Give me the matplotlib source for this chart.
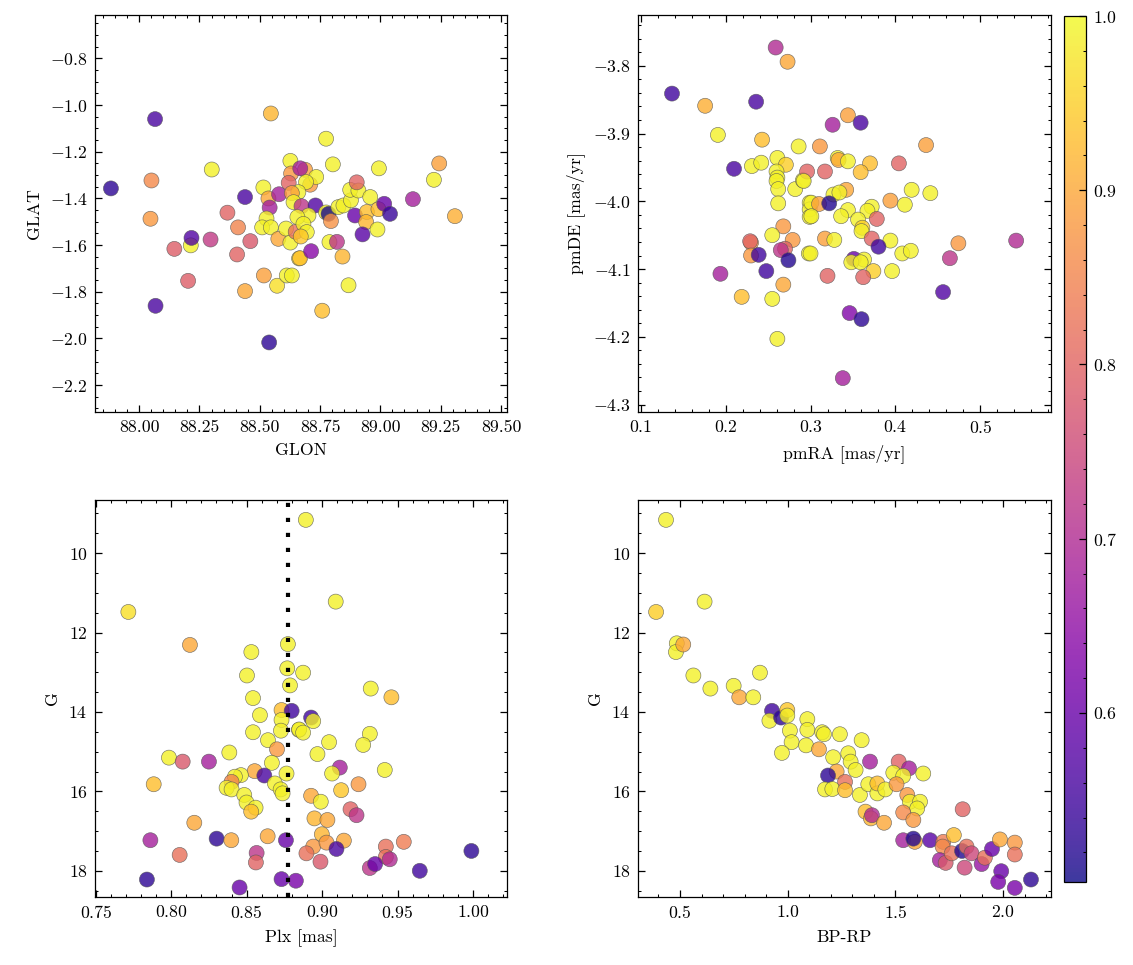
import numpy as np
import matplotlib
matplotlib.use("Agg")
import matplotlib.pyplot as plt
from matplotlib.ticker import AutoMinorLocator, MultipleLocator

# science-ish style: serif, inward ticks on every side
plt.rcParams['font.family'] = 'serif'
plt.rcParams['font.serif'] = ['cmr10', 'DejaVu Serif']
plt.rcParams['mathtext.fontset'] = 'cm'
plt.rcParams['axes.formatter.use_mathtext'] = True
plt.rcParams['font.size'] = 8.5
plt.rcParams['axes.linewidth'] = 0.6
plt.rcParams['xtick.direction'] = 'in'
plt.rcParams['ytick.direction'] = 'in'
plt.rcParams['xtick.top'] = True
plt.rcParams['ytick.right'] = True
plt.rcParams['xtick.major.size'] = 3.2
plt.rcParams['ytick.major.size'] = 3.2
plt.rcParams['xtick.minor.size'] = 1.6
plt.rcParams['ytick.minor.size'] = 1.6
plt.rcParams['xtick.major.width'] = 0.6
plt.rcParams['ytick.major.width'] = 0.6
plt.rcParams['xtick.minor.width'] = 0.5
plt.rcParams['ytick.minor.width'] = 0.5
plt.rcParams['xtick.minor.visible'] = True
plt.rcParams['ytick.minor.visible'] = True

# ---- sky positions ----
glon = [88.066, 87.883, 88.051, 88.047, 88.301, 88.546, 88.439, 88.366, 88.410, 88.214,
        88.217, 88.146, 88.296, 88.461, 88.406, 88.203, 88.068, 88.439, 88.517, 88.572,
        88.612, 88.539, 88.515, 88.536, 88.541, 88.580, 88.528, 88.510, 88.546, 88.577,
        88.627, 88.630, 88.620, 88.688, 88.668, 88.609, 88.627, 88.649, 88.663, 88.775,
        88.803, 88.994, 89.244, 89.222, 89.135, 89.309, 88.709, 88.734, 88.692, 88.660,
        88.633, 88.640, 88.673, 88.731, 88.702, 88.656, 88.681, 88.695, 88.670, 88.667,
        88.713, 88.633, 88.775, 88.785, 88.795, 88.789, 88.820, 88.843, 88.868, 88.759,
        88.826, 88.847, 88.878, 88.875, 88.909, 88.902, 88.958, 88.895, 88.944, 88.941,
        88.926, 88.988, 88.992, 89.016, 89.040]
glat = [-1.060, -1.357, -1.323, -1.487, -1.276, -1.036, -1.394, -1.461, -1.524, -1.601,
        -1.569, -1.616, -1.576, -1.583, -1.640, -1.753, -1.860, -1.797, -1.730, -1.774,
        -1.730, -2.017, -1.353, -1.400, -1.439, -1.382, -1.486, -1.524, -1.524, -1.573,
        -1.239, -1.293, -1.333, -1.277, -1.271, -1.529, -1.589, -1.543, -1.657, -1.144,
        -1.254, -1.271, -1.250, -1.320, -1.403, -1.476, -1.341, -1.308, -1.330, -1.373,
        -1.377, -1.416, -1.433, -1.430, -1.473, -1.480, -1.509, -1.544, -1.563, -1.656,
        -1.626, -1.730, -1.460, -1.466, -1.497, -1.587, -1.586, -1.649, -1.772, -1.881,
        -1.437, -1.430, -1.408, -1.363, -1.366, -1.331, -1.394, -1.473, -1.458, -1.501,
        -1.554, -1.533, -1.446, -1.423, -1.466]
prob_sky = [0.56, 0.53, 0.86, 0.88, 0.99, 0.92, 0.56, 0.80, 0.85, 0.99,
            0.57, 0.79, 0.73, 0.78, 0.80, 0.79, 0.56, 0.90, 0.89, 0.97,
            0.99, 0.53, 0.99, 0.90, 0.68, 0.68, 0.99, 0.99, 0.99, 0.90,
            0.99, 0.88, 0.80, 0.89, 0.68, 0.99, 0.99, 0.82, 0.97, 0.99,
            0.99, 0.99, 0.89, 0.99, 0.68, 0.91, 0.88, 0.99, 0.99, 0.99,
            0.89, 0.99, 0.72, 0.57, 0.99, 0.99, 0.99, 0.99, 0.94, 0.93,
            0.64, 0.99, 0.99, 0.51, 0.87, 0.99, 0.72, 0.92, 0.99, 0.93,
            0.99, 0.99, 0.99, 0.99, 0.99, 0.80, 0.99, 0.60, 0.93, 0.92,
            0.58, 0.99, 0.93, 0.60, 0.54]

# ---- proper motions ----
pmra = [0.259, 0.273, 0.137, 0.236, 0.176, 0.191, 0.243, 0.286, 0.210, 0.231,
        0.242, 0.261, 0.271, 0.260, 0.261, 0.260, 0.262, 0.282, 0.291, 0.296,
        0.262, 0.299, 0.299, 0.299, 0.268, 0.255, 0.230, 0.229, 0.279, 0.230,
        0.239, 0.270, 0.265, 0.274, 0.298, 0.248, 0.194, 0.268, 0.219, 0.255,
        0.261, 0.344, 0.326, 0.359, 0.436, 0.311, 0.332, 0.333, 0.344, 0.370,
        0.404, 0.317, 0.359, 0.292, 0.342, 0.327, 0.334, 0.419, 0.441, 0.301,
        0.310, 0.322, 0.301, 0.344, 0.336, 0.372, 0.367, 0.394, 0.411, 0.378,
        0.356, 0.361, 0.360, 0.317, 0.328, 0.372, 0.394, 0.380, 0.474, 0.542,
        0.300, 0.351, 0.363, 0.348, 0.359, 0.408, 0.418, 0.464, 0.374, 0.396,
        0.320, 0.362, 0.456, 0.346, 0.360, 0.338]
pmde = [-3.773, -3.794, -3.841, -3.853, -3.859, -3.902, -3.909, -3.919, -3.952, -3.948,
        -3.943, -3.936, -3.946, -3.956, -3.965, -3.970, -3.982, -3.982, -3.969, -3.956,
        -4.003, -4.002, -4.012, -4.023, -4.037, -4.050, -4.061, -4.059, -4.057, -4.080,
        -4.079, -4.070, -4.072, -4.087, -4.077, -4.103, -4.107, -4.123, -4.141, -4.144,
        -4.203, -3.873, -3.887, -3.884, -3.917, -3.919, -3.936, -3.939, -3.941, -3.944,
        -3.944, -3.956, -3.957, -3.970, -3.983, -3.990, -3.987, -3.983, -3.988, -4.002,
        -4.004, -4.003, -4.022, -4.013, -4.022, -4.008, -4.014, -3.999, -4.005, -4.026,
        -4.027, -4.039, -4.044, -4.055, -4.057, -4.055, -4.058, -4.067, -4.062, -4.058,
        -4.077, -4.085, -4.086, -4.090, -4.090, -4.077, -4.073, -4.084, -4.103, -4.103,
        -4.110, -4.112, -4.134, -4.165, -4.174, -4.261]
prob_pm = [0.70, 0.90, 0.55, 0.56, 0.91, 0.99, 0.93, 0.99, 0.56, 0.99,
           0.99, 0.99, 0.95, 0.99, 0.99, 0.99, 0.99, 0.99, 0.99, 0.80,
           0.99, 0.99, 0.99, 0.99, 0.88, 0.99, 0.88, 0.80, 0.88, 0.88,
           0.55, 0.80, 0.72, 0.52, 0.99, 0.55, 0.68, 0.90, 0.93, 0.99,
           0.99, 0.89, 0.68, 0.56, 0.89, 0.88, 0.99, 0.90, 0.99, 0.93,
           0.80, 0.80, 0.93, 0.99, 0.90, 0.99, 0.99, 0.99, 0.99, 0.99,
           0.89, 0.52, 0.99, 0.99, 0.99, 0.99, 0.99, 0.89, 0.99, 0.80,
           0.99, 0.95, 0.99, 0.89, 0.99, 0.80, 0.99, 0.55, 0.88, 0.70,
           0.99, 0.60, 0.99, 0.99, 0.99, 0.99, 0.99, 0.72, 0.95, 0.99,
           0.80, 0.80, 0.57, 0.63, 0.53, 0.68]

# ---- parallax vs G ----
plx = [0.7716, 0.8124, 0.8531, 0.8502, 0.8542, 0.8588, 0.8542, 0.8641, 0.8773, 0.8769,
       0.8787, 0.8731, 0.8798, 0.8731, 0.8727, 0.8846, 0.8701, 0.8667, 0.8764, 0.8385,
       0.7985, 0.8076, 0.8250, 0.8553, 0.8617, 0.8462, 0.8422, 0.8400, 0.8367, 0.8400,
       0.8687, 0.8725, 0.8738, 0.7884, 0.8484, 0.8499, 0.8559, 0.8530, 0.8153, 0.8639,
       0.7862, 0.8301, 0.8398, 0.8760, 0.8056, 0.8566, 0.8561, 0.7839, 0.8453, 0.8731,
       0.8826, 0.8892, 0.9090, 0.8874, 0.9322, 0.9459, 0.8927, 0.8941, 0.8848, 0.8874,
       0.9316, 0.9272, 0.9046, 0.8969, 0.9415, 0.9117, 0.9066, 0.9126, 0.9241, 0.8927,
       0.8991, 0.9188, 0.9228, 0.8949, 0.9035, 0.8998, 0.9144, 0.8941, 0.9029, 0.9095,
       0.8896, 0.8989, 0.9422, 0.9541, 0.9422, 0.9448, 0.9316, 0.9351, 0.9647, 0.9989]
g_plx = [11.48, 12.31, 12.49, 13.08, 13.65, 14.08, 14.51, 14.71, 12.29, 12.90,
         13.33, 13.95, 13.97, 14.20, 14.47, 14.45, 14.94, 15.28, 15.55, 15.02,
         15.15, 15.25, 15.25, 15.49, 15.60, 15.59, 15.63, 15.76, 15.91, 15.95,
         15.80, 15.95, 16.05, 15.82, 16.09, 16.28, 16.41, 16.51, 16.79, 17.13,
         17.23, 17.19, 17.23, 17.23, 17.60, 17.55, 17.79, 18.22, 18.42, 18.21,
         18.25, 9.16, 11.22, 13.01, 13.41, 13.63, 14.14, 14.23, 14.44, 14.52,
         14.55, 14.83, 14.76, 15.06, 15.46, 15.40, 15.55, 15.97, 15.82, 16.11,
         16.26, 16.45, 16.60, 16.68, 16.72, 17.08, 17.24, 17.39, 17.29, 17.45,
         17.56, 17.77, 17.39, 17.27, 17.65, 17.71, 17.93, 17.83, 18.00, 17.50]
prob_plx = [0.97, 0.90, 0.99, 0.99, 0.99, 0.99, 0.99, 0.99, 0.99, 0.99,
            0.99, 0.93, 0.55, 0.99, 0.99, 0.99, 0.88, 0.99, 0.99, 0.99,
            0.99, 0.78, 0.68, 0.90, 0.56, 0.99, 0.99, 0.85, 0.99, 0.99,
            0.99, 0.99, 0.99, 0.93, 0.99, 0.99, 0.99, 0.93, 0.90, 0.90,
            0.68, 0.53, 0.90, 0.60, 0.82, 0.72, 0.80, 0.53, 0.60, 0.60,
            0.62, 0.99, 0.99, 0.99, 0.99, 0.93, 0.55, 0.99, 0.99, 0.99,
            0.99, 0.99, 0.99, 0.99, 0.99, 0.68, 0.99, 0.94, 0.88, 0.90,
            0.99, 0.80, 0.72, 0.92, 0.90, 0.92, 0.90, 0.88, 0.88, 0.56,
            0.82, 0.78, 0.82, 0.84, 0.82, 0.70, 0.72, 0.60, 0.55, 0.53]
plx_mean = 0.8773

# ---- colour-magnitude ----
bprp = [0.435, 0.389, 0.614, 0.485, 0.481, 0.515, 0.562, 0.641, 0.749, 0.775,
        0.840, 0.871, 0.927, 0.915, 0.969, 0.998, 0.998, 1.010, 1.018, 0.973,
        1.091, 1.091, 1.085, 1.160, 1.168, 1.242, 1.343, 1.145, 1.211, 1.281,
        1.292, 1.315, 1.382, 1.515, 1.563, 1.490, 1.536, 1.629, 1.227, 1.187,
        1.266, 1.173, 1.207, 1.266, 1.335, 1.374, 1.416, 1.416, 1.453, 1.505,
        1.555, 1.567, 1.614, 1.601, 1.536, 1.583, 1.361, 1.386, 1.391, 1.447,
        1.812, 1.536, 1.590, 1.583, 1.661, 1.722, 1.771, 1.719, 1.706, 1.733,
        1.761, 1.809, 1.830, 1.853, 1.821, 1.900, 1.915, 1.948, 1.985, 2.054,
        2.054, 1.991, 1.977, 2.054, 2.129]
g_cmd = [9.16, 11.48, 11.22, 12.27, 12.49, 12.30, 13.08, 13.41, 13.34, 13.63,
         13.63, 13.01, 13.97, 14.22, 14.14, 13.95, 14.09, 14.47, 14.76, 15.03,
         14.18, 14.45, 14.84, 14.51, 14.56, 14.56, 14.71, 14.94, 15.14, 15.04,
         15.25, 15.46, 15.25, 15.25, 15.42, 15.53, 15.61, 15.55, 15.50, 15.60,
         15.76, 15.95, 15.94, 15.97, 16.09, 15.82, 16.05, 15.80, 15.95, 15.82,
         16.09, 16.26, 16.26, 16.43, 16.53, 16.72, 16.51, 16.68, 16.60, 16.79,
         16.45, 17.23, 17.27, 17.19, 17.23, 17.27, 17.10, 17.39, 17.73, 17.80,
         17.56, 17.50, 17.39, 17.56, 17.92, 17.83, 17.67, 17.45, 17.21, 17.29,
         17.59, 18.01, 18.28, 18.43, 18.22]
prob_cmd = [0.99, 0.95, 0.99, 0.99, 0.99, 0.90, 0.99, 0.99, 0.99, 0.90,
            0.99, 0.99, 0.55, 0.99, 0.53, 0.94, 0.99, 0.99, 0.99, 0.99,
            0.99, 0.99, 0.99, 0.99, 0.99, 0.99, 0.99, 0.90, 0.99, 0.99,
            0.99, 0.99, 0.68, 0.80, 0.68, 0.99, 0.99, 0.99, 0.90, 0.53,
            0.82, 0.99, 0.99, 0.93, 0.99, 0.99, 0.99, 0.93, 0.99, 0.88,
            0.88, 0.99, 0.99, 0.99, 0.86, 0.88, 0.93, 0.92, 0.70, 0.90,
            0.80, 0.68, 0.90, 0.52, 0.58, 0.84, 0.93, 0.86, 0.68, 0.78,
            0.82, 0.52, 0.82, 0.75, 0.75, 0.66, 0.82, 0.60, 0.90, 0.88,
            0.82, 0.60, 0.62, 0.62, 0.53]

vmin, vmax = 0.503, 1.0
sc_kw = dict(cmap='plasma', vmin=vmin, vmax=vmax, s=52, alpha=0.8,
             edgecolors='#555555', linewidths=0.3)

W, H = 1133, 965
fig = plt.figure(figsize=(W / 150, H / 150), dpi=150)

def px_axes(x0, y0, x1, y1):
    return fig.add_axes([x0 / W, 1 - y1 / H, (x1 - x0) / W, (y1 - y0) / H])

ax1 = px_axes(95, 15, 507, 412)
ax2 = px_axes(638, 15, 1051, 412)
ax3 = px_axes(95, 500, 507, 897)
ax4 = px_axes(638, 500, 1051, 897)
cax = px_axes(1064, 16, 1086, 882)

sc = ax1.scatter(glon, glat, c=prob_sky, **sc_kw)
ax1.set_xlim(87.817, 89.525)
ax1.set_ylim(-2.315, -0.614)
ax1.xaxis.set_major_locator(MultipleLocator(0.25))
ax1.xaxis.set_major_formatter(plt.FormatStrFormatter('%.2f'))
ax1.yaxis.set_major_locator(MultipleLocator(0.2))
ax1.xaxis.set_minor_locator(AutoMinorLocator(5))
ax1.yaxis.set_minor_locator(AutoMinorLocator(4))
ax1.set_xlabel('GLON')
ax1.set_ylabel('GLAT')

ax2.scatter(pmra, pmde, c=prob_pm, **sc_kw)
ax2.set_xlim(0.097, 0.583)
ax2.set_ylim(-4.311, -3.725)
ax2.xaxis.set_major_locator(MultipleLocator(0.1))
ax2.yaxis.set_major_locator(MultipleLocator(0.1))
ax2.xaxis.set_minor_locator(AutoMinorLocator(5))
ax2.yaxis.set_minor_locator(AutoMinorLocator(5))
ax2.set_xlabel('pmRA [mas/yr]')
ax2.set_ylabel('pmDE [mas/yr]')

ax3.scatter(plx, g_plx, c=prob_plx, **sc_kw)
ax3.axvline(plx_mean, color='k', lw=2.0, linestyle=(0, (1, 2.6)))
ax3.set_xlim(0.7495, 1.0225)
ax3.set_ylim(18.66, 8.66)
ax3.xaxis.set_major_locator(MultipleLocator(0.05))
ax3.yaxis.set_major_locator(MultipleLocator(2))
ax3.xaxis.set_minor_locator(AutoMinorLocator(5))
ax3.yaxis.set_minor_locator(AutoMinorLocator(4))
ax3.set_xlabel('Plx [mas]')
ax3.set_ylabel('G')

ax4.scatter(bprp, g_cmd, c=prob_cmd, **sc_kw)
ax4.set_xlim(0.305, 2.222)
ax4.set_ylim(18.66, 8.66)
ax4.xaxis.set_major_locator(MultipleLocator(0.5))
ax4.yaxis.set_major_locator(MultipleLocator(2))
ax4.xaxis.set_minor_locator(AutoMinorLocator(5))
ax4.yaxis.set_minor_locator(AutoMinorLocator(4))
ax4.set_xlabel('BP-RP')
ax4.set_ylabel('G')

cb = fig.colorbar(sc, cax=cax)
cb.solids.set_alpha(0.8)
cb.ax.yaxis.set_major_locator(MultipleLocator(0.1))
cb.ax.yaxis.set_minor_locator(MultipleLocator(0.02))
cb.ax.tick_params(which='both', direction='in', left=False, right=True)
cb.outline.set_linewidth(0.6)

fig.savefig('out.png', dpi=150)
